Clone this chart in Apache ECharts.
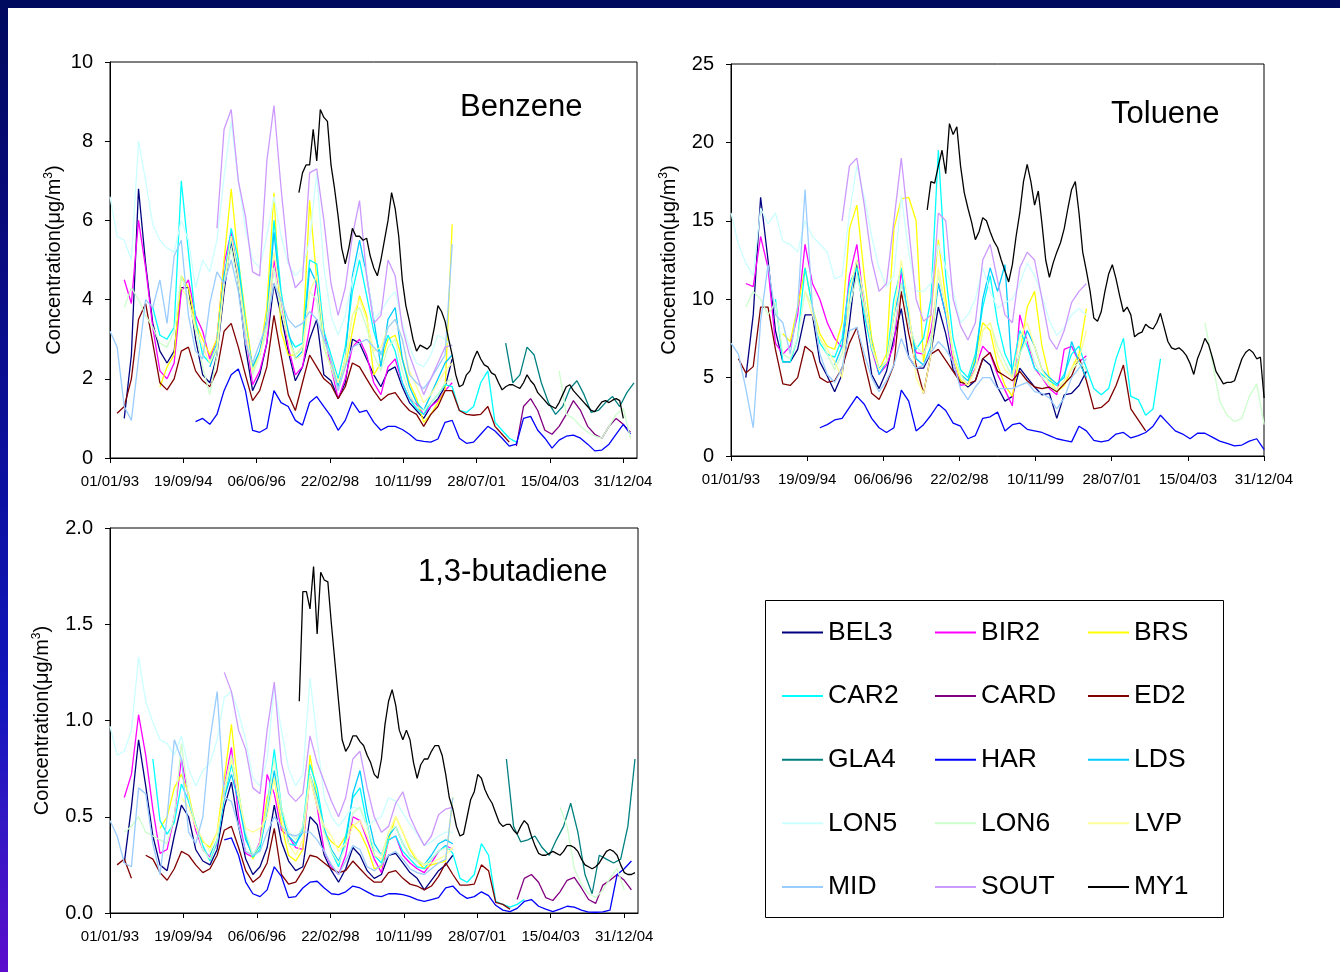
<!DOCTYPE html>
<html>
<head>
<meta charset="utf-8">
<title>Benzene / Toluene / 1,3-butadiene</title>
<script src="https://cdn.jsdelivr.net/npm/echarts@6/dist/echarts.min.js"></script>
<style>
  html, body { margin: 0; padding: 0; background: #fff; }
  #main { width: 1340px; height: 972px; }
</style>
</head>
<body>
<div id="main"></div>
<script>
// x axis is days since 01/01/93, ticks every 626 days
var MONTH = 30.4375;
var SPAN = 626;
var tickLabels = ['01/01/93', '19/09/94', '06/06/96', '22/02/98', '10/11/99', '28/07/01', '15/04/03', '31/12/04'];

var names = ['BEL3', 'BIR2', 'BRS', 'CAR2', 'CARD', 'ED2', 'GLA4', 'HAR', 'LDS', 'LON5', 'LON6', 'LVP', 'MID', 'SOUT', 'MY1'];
var colors = ['#000080', '#FF00FF', '#FFFF00', '#00FFFF', '#800080', '#800000', '#008080', '#0000FF', '#00CCFF', '#CCFFFF', '#CCFFCC', '#FFFF99', '#99CCFF', '#CC99FF', '#000000'];
// months between points (MY1 monthly, others every 2 months)
var steps = [2, 2, 2, 2, 2, 2, 2, 2, 2, 2, 2, 2, 2, 2, 1];

// first month (0 = Jan 93) of every series
var bzStart = [4, 4, 14, 12, 114, 2, 111, 24, 28, 0, 4, 20, 0, 30, 53];
var tlStart = [4, 4, 14, 12, 0, 2, 0, 24, 28, 0, 4, 20, 0, 30, 53];
var bdStart = [4, 4, 14, 12, 114, 2, 111, 32, 28, 0, 4, 20, 0, 32, 53];

// ---- Benzene (ug/m3)
var bzBEL3 = [1.0, 2.6, 6.8, 4.9, 3.4, 2.7, 2.4, 2.7, 4.3, 4.3, 3.0, 2.1, 1.9, 2.6, 4.2, 5.5, 4.4, 2.8, 1.7, 2.1, 2.9, 4.4, 3.6, 2.7, 1.95, 2.3, 3.0, 3.5, 2.1, 1.95, 1.5, 1.9, 3.0, 2.9, 2.5, 2.1, 1.8, 2.2, 2.3, 1.8, 1.4, 1.2, 1.0, 1.3, 1.5, 1.8, 2.5];
var bzBIR2 = [4.5, 3.9, 6.0, 4.8, 3.3, 2.2, 2.0, 2.4, 4.2, 4.5, 3.6, 3.2, 2.5, 3.0, 4.9, 5.7, 4.6, 3.2, 1.85, 2.2, 2.9, 5.0, 4.0, 2.8, 2.1, 2.3, 3.3, 4.5, 3.2, 2.3, 1.5, 2.0, 2.8, 3.0, 2.6, 1.9, 1.6, 2.3, 2.5, 1.9, 1.5, 1.35, 1.1, 1.3, 1.45, 1.7, 1.9];
var bzBRS = [1.8, 2.3, 2.6, 4.6, 4.3, 3.4, 3.0, 2.6, 3.0, 5.0, 6.8, 5.0, 3.6, 2.3, 2.6, 3.8, 6.7, 3.2, 2.6, 2.6, 2.8, 6.5, 4.5, 2.8, 2.3, 1.8, 2.3, 3.2, 4.1, 3.6, 2.1, 2.4, 3.0, 3.1, 2.5, 1.9, 1.5, 0.9, 1.1, 1.4, 1.7, 5.9];
var bzCAR2 = [3.8, 3.1, 3.0, 3.3, 7.0, 5.2, 3.5, 2.6, 2.4, 2.9, 4.5, 5.8, 5.0, 3.4, 2.2, 2.6, 3.4, 6.0, 4.2, 3.1, 2.8, 2.9, 5.0, 4.9, 3.2, 2.6, 2.0, 2.8, 4.2, 5.0, 4.1, 3.2, 2.6, 3.1, 2.7, 1.9, 1.5, 1.25, 1.1, 1.4, 1.6, 1.85, 1.8, 1.2, 1.15, 1.3, 1.9, 2.2, 0.9, 0.7, 0.5, 0.4];
var bzCARD = [0.3, 1.3, 1.5, 1.2, 0.7, 0.6, 0.8, 1.1, 1.45, 1.2, 0.8, 0.6, 0.5, 0.8, 1.0, 0.85, 0.65];
var bzED2 = [1.13, 1.3, 2.0, 3.5, 3.9, 2.9, 1.9, 1.72, 2.0, 2.7, 2.8, 2.2, 1.95, 1.8, 2.2, 3.2, 3.4, 2.8, 2.1, 1.45, 1.7, 2.3, 3.6, 2.6, 1.6, 1.2, 1.9, 2.6, 2.3, 2.0, 1.85, 1.5, 1.8, 2.4, 2.3, 2.0, 1.7, 1.45, 1.6, 1.65, 1.4, 1.2, 1.1, 0.8, 1.1, 1.3, 1.7, 1.7, 1.2, 1.1, 1.08, 1.1, 1.3, 0.8, 0.6, 0.4];
var bzGLA4 = [2.9, 1.9, 2.1, 2.8, 2.6, 1.9, 1.4, 1.1, 1.3, 1.75, 1.95, 1.6, 1.15, 1.2, 1.4, 1.55, 1.3, 1.65, 1.9];
var bzHAR = [0.92, 1.0, 0.85, 1.1, 1.7, 2.1, 2.25, 1.7, 0.7, 0.65, 0.75, 1.7, 1.4, 1.3, 0.95, 0.83, 1.4, 1.55, 1.3, 1.05, 0.7, 0.95, 1.42, 1.15, 1.2, 0.9, 0.7, 0.8, 0.8, 0.72, 0.6, 0.45, 0.42, 0.4, 0.48, 0.9, 0.95, 0.5, 0.37, 0.4, 0.6, 0.8, 0.68, 0.5, 0.3, 0.35, 1.0, 1.05, 0.7, 0.5, 0.25, 0.45, 0.55, 0.58, 0.5, 0.35, 0.18, 0.2, 0.35, 0.6, 0.85, 0.6];
var bzLDS = [2.3, 2.8, 4.6, 5.5, 4.8, 3.3, 2.3, 2.7, 3.5, 5.7, 4.0, 3.2, 2.5, 2.7, 4.8, 4.4, 3.0, 2.5, 1.8, 2.5, 4.6, 5.5, 4.6, 3.5, 2.3, 3.5, 3.8, 2.5, 1.8, 1.4, 1.2, 1.6, 2.0, 2.4, 2.6];
var bzLON5 = [6.6, 5.6, 5.5, 5.0, 8.0, 7.0, 5.9, 5.5, 5.3, 5.2, 6.0, 5.5, 4.3, 5.0, 4.7, 5.5, 7.1, 8.5, 7.0, 5.8, 5.0, 4.8, 5.6, 6.6, 5.6, 4.9, 4.6, 4.8, 5.5, 7.2, 4.8, 3.6, 3.1, 3.6, 4.5, 5.2, 4.6, 3.5, 3.7, 4.0, 4.2, 3.4, 2.8, 2.4, 2.3, 2.6, 3.1, 3.0, 2.8];
var bzLON6 = [3.8, 4.3, 4.0, 3.6, 3.3, 2.9, 2.8, 3.2, 4.6, 4.0, 3.2, 2.3, 1.6, 2.6, 4.4, 5.3, 4.4, 3.2, 2.1, 2.6, 3.2, 4.8, 3.7, 3.0, 2.6, 2.8, 4.2, 4.0, 2.8, 2.3, 1.7, 2.4, 3.6, 3.8, 3.3, 2.6, 2.2, 2.8, 3.0, 2.2, 1.6, 1.3, 1.2, 1.4, 1.6, 1.9, 2.0,
  null, null, null, null, null, null, null, null, null, null, null, null, null, null,
  2.2, 1.1, 1.0, 0.8, 0.65, 0.55, 0.5, 0.8, 1.1, 1.25, 0.5];
var bzLVP = [4.3, 4.0, 3.3, 2.8, 2.4, 2.8, 4.4, 5.6, 4.6, 3.3, 2.2, 2.6, 3.4, 5.2, 4.0, 3.0, 2.5, 2.6, 4.2, 4.6, 3.0, 2.5, 1.9, 2.5, 3.6, 4.0, 3.5, 2.7, 2.8, 3.3, 3.5, 3.0, 2.2, 1.8, 1.4, 1.6, 1.9, 2.2, 2.4];
var bzMID = [3.2, 2.8, 1.3, 0.95, 2.5, 4.0, 3.8, 4.5, 3.4, 5.1, 5.5, 3.6, 2.7, 2.5, 3.9, 4.7, 4.4, 5.0, 4.2, 2.9, 2.4, 2.9, 3.4, 4.4, 4.0, 3.5, 3.3, 3.4, 3.7, 3.5, 3.0, 2.5, 1.7, 2.3, 2.8, 2.9, 3.0, 2.8, 2.6, 3.3, 3.5, 3.0, 2.1, 1.9, 1.75, 2.0, 2.3, 2.6, 5.4];
var bzSOUT = [5.8, 8.3, 8.8, 7.0, 6.1, 4.7, 4.6, 7.5, 8.9, 6.8, 5.0, 4.3, 4.5, 7.2, 7.3, 6.0, 4.4, 3.6, 4.3, 5.6, 6.5, 4.6, 3.4, 3.6, 5.0, 4.6, 3.3, 2.6, 2.1, 1.6, 2.0, 2.4, 2.8, 2.85];
var bzMY1 = [6.7, 7.2, 7.4, 7.4, 8.3, 7.5, 8.8, 8.6, 8.5, 7.4, 6.8, 6.1, 5.3, 4.9, 5.3, 5.8, 5.6, 5.6, 5.5, 5.55,
  5.1, 4.8, 4.6, 5.0, 5.5, 6.0, 6.7, 6.3, 5.6, 4.5, 3.85, 3.45, 3.0, 2.7, 2.85, 2.8, 2.75, 2.85, 3.3, 3.85,
  3.7, 3.45, 3.0, 2.6, 2.1, 1.8, 1.85, 2.1, 2.2, 2.5, 2.7, 2.5, 2.35, 2.3, 2.15, 2.1, 1.9, 1.72, 1.8, 1.85,
  1.85, 1.8, 1.76, 1.9, 2.1, 1.95, 1.85, 1.65, 1.55, 1.45, 1.34, 1.3, 1.25, 1.4, 1.6, 1.8, 1.85, 1.7, 1.6, 1.5,
  1.4, 1.3, 1.2, 1.17, 1.3, 1.42, 1.45, 1.4, 1.46, 1.5, 1.45, 1.0];

// ---- Toluene (ug/m3)
var tlBEL3 = [5.0, 9.0, 16.5, 12.5, 8.0, 6.0, 6.0, 6.8, 9.0, 9.0, 6.0, 5.1, 4.1, 5.2, 8.5, 12.5, 8.5, 5.2, 4.3, 5.4, 7.5, 9.4, 6.3, 5.6, 5.6, 6.6, 9.5, 7.8, 5.5, 4.8, 4.4, 4.8, 6.2, 5.8, 4.4, 3.5, 3.8, 5.6, 5.0, 4.4, 3.9, 4.0, 2.4, 3.9, 4.0, 4.5, 5.4];
var tlBIR2 = [11.0, 10.8, 14.0, 12.0, 7.2, 6.5, 7.0, 9.0, 13.5, 11.0, 10.0, 8.5, 7.5, 6.9, 11.5, 13.5, 9.5, 6.8, 5.2, 5.8, 7.1, 11.8, 8.5, 6.6, 6.5, 8.0, 11.0, 9.0, 6.0, 4.5, 4.6, 5.6, 7.0, 6.5, 5.2, 4.2, 3.2, 9.0, 7.3, 5.6, 5.0, 4.3, 3.9, 6.8, 7.0, 6.0, 6.4];
var tlBRS = [7.8, 7.3, 9.5, 12.0, 9.5, 7.8, 7.0, 6.8, 8.5, 14.5, 16.0, 11.5, 7.5, 5.5, 6.5, 14.5, 16.4, 16.5, 15.0, 6.0, 9.0, 13.8, 10.0, 6.4, 4.8, 4.5, 6.3, 8.5, 8.0, 5.8, 4.5, 3.8, 6.5, 9.5, 10.5, 7.0, 5.0, 4.1, 4.5, 5.6, 6.5, 9.4];
var tlCAR2 = [10.0, 6.0, 6.0, 7.5, 12.0, 9.5, 7.2, 6.5, 6.3, 7.5, 11.0, 12.0, 9.0, 6.8, 5.6, 6.0, 10.0, 12.0, 8.5, 6.8, 7.5, 10.0, 19.5, 11.5, 7.5, 5.5, 5.0, 6.5, 9.5, 11.5, 8.5, 6.5, 5.5, 8.0, 7.0, 5.6, 5.2, 4.8, 4.5, 5.2, 6.5, 7.0, 5.6, 4.3, 3.9, 4.3, 6.2, 7.5, 3.8, 3.6, 2.6, 3.0, 6.2];
var tlCARD = [];
var tlED2 = [6.2, 5.3, 5.7, 9.5, 9.5, 6.8, 4.6, 4.5, 5.0, 7.0, 6.6, 5.0, 4.7, 4.8, 5.6, 7.2, 8.2, 6.0, 4.0, 3.6, 4.6, 5.8, 10.5, 7.8, 5.8, 4.0, 6.5, 6.8, 6.1, 5.4, 4.7, 4.6, 4.8, 6.2, 6.6, 5.4, 5.1, 4.8, 5.4, 4.8, 4.4, 4.3, 4.4, 4.1, 4.6, 5.1, 6.3, 4.8, 3.0, 3.1, 3.5, 4.5, 5.8, 3.0, 2.3, 1.6];
var tlGLA4 = [];
var tlHAR = [1.8, 2.0, 2.3, 2.4, 3.1, 3.8, 3.3, 2.4, 1.8, 1.5, 1.8, 4.2, 3.5, 1.6, 2.0, 2.6, 3.3, 2.9, 2.1, 1.9, 1.1, 1.3, 2.4, 2.5, 2.8, 1.6, 2.0, 2.1, 1.7, 1.6, 1.5, 1.3, 1.1, 1.0, 0.9, 1.9, 1.6, 1.0, 0.9, 1.0, 1.4, 1.5, 1.15, 1.3, 1.5, 1.9, 2.6, 2.1, 1.6, 1.4, 1.1, 1.45, 1.45, 1.2, 0.95, 0.8, 0.65, 0.7, 0.95, 1.1, 0.4];
var tlLDS = [5.8, 7.0, 10.0, 12.5, 10.0, 7.2, 5.2, 6.0, 9.0, 11.0, 9.0, 6.2, 5.8, 7.0, 11.0, 9.0, 6.5, 5.2, 4.8, 6.0, 10.0, 12.0, 10.5, 12.2, 5.0, 6.5, 8.0, 7.0, 5.5, 5.0, 4.6, 5.0, 7.3, 6.0, 5.0];
var tlLON5 = [15.5, 13.5, 12.3, 11.5, 15.8, 14.8, 15.5, 13.7, 13.5, 13.0, 15.0, 14.0, 13.5, 13.0, 11.3, 11.5, 15.5, 18.5, 16.5, 14.0, 12.0, 10.8, 11.5, 16.6, 13.0, 10.5, 10.5, 11.0, 13.5, 12.0, 10.5, 8.5, 9.0, 10.0, 12.0, 10.5, 9.4, 9.8, 10.0, 11.0, 12.3, 11.5, 10.2, 8.6, 7.7, 8.2, 9.0, 9.4, 9.0];
var tlLON6 = [9.5, 10.5, 10.0, 9.0, 9.8, 6.5, 6.2, 7.5, 10.5, 9.5, 7.5, 6.5, 5.5, 6.5, 9.5, 11.5, 9.5, 7.0, 5.5, 6.0, 8.0, 11.0, 8.5, 7.0, 6.5, 7.5, 11.5, 9.5, 6.5, 5.2, 4.5, 5.5, 8.0, 8.5, 7.0, 6.0, 5.0, 6.5, 7.5, 6.0, 5.0, 4.5, 4.2, 4.8, 5.5, 6.0, 5.5,
  null, null, null, null, null, null, null, null, null, null, null, null, null, null, null,
  8.5, 6.0, 3.5, 2.6, 2.2, 2.4, 3.8, 4.6, 2.0];
var tlLVP = [10.5, 9.0, 7.5, 6.8, 6.0, 5.0, 10.5, 12.5, 10.0, 7.0, 5.5, 6.0, 9.0, 12.5, 9.5, 5.0, 4.0, 6.5, 12.0, 9.5, 6.5, 5.0, 4.5, 5.5, 8.0, 8.5, 6.5, 5.5, 5.0, 7.5, 8.5, 7.0, 5.5, 4.6, 4.3, 4.8, 5.6, 6.2, 8.0];
var tlMID = [7.2, 6.5, 4.3, 1.8, 8.6, 12.2, 9.0, 8.5, 6.5, 9.5, 17.0, 9.5, 6.5, 5.2, 4.7, 5.6, 8.0, 8.2, 6.5, 5.0, 4.1, 4.8, 5.8, 7.5, 6.3, 5.6, 5.8, 6.6, 7.3, 6.8, 6.0, 4.3, 3.6, 4.4, 5.0, 5.0, 4.3, 4.3, 4.3, 4.5, 4.7, 4.1, 4.0, 3.7, 3.0, 3.7, 5.0, 5.6, 6.2];
var tlSOUT = [15.0, 18.5, 19.0, 16.0, 12.5, 10.5, 11.0, 15.0, 19.0, 14.5, 10.0, 8.6, 9.0, 15.5, 15.0, 10.0, 8.3, 7.4, 8.5, 12.5, 13.5, 11.2, 9.0, 8.5, 12.0, 13.0, 12.5, 10.0, 7.5, 6.8, 8.0, 9.8, 10.5, 11.0];
var tlMY1 = [15.7, 17.5, 17.4, 18.5, 19.5, 18.0, 21.2, 20.5, 21.0, 18.5, 16.8, 15.8, 14.9, 13.8, 14.3, 15.2, 15.0, 14.3, 13.7, 13.3,
  12.5, 11.8, 11.1, 12.2, 14.0, 15.5, 17.5, 18.6, 17.5, 16.0, 16.9, 14.8, 12.5, 11.4, 12.3, 13.0, 13.6, 14.5, 15.8, 17.0,
  17.5, 15.5, 13.0, 11.8, 10.5, 8.8, 8.6, 9.2, 10.5, 11.6, 12.2, 11.3, 10.2, 9.2, 9.5, 9.0, 7.6, 7.8, 7.9, 8.4,
  8.2, 8.1, 8.5, 9.1, 8.2, 7.3, 6.9, 6.8, 6.9, 6.7, 6.4, 5.9, 5.2, 6.2, 6.8, 7.5, 7.1, 6.3, 5.4, 5.0,
  4.6, 4.7, 4.7, 4.8, 5.5, 6.2, 6.6, 6.8, 6.6, 6.2, 6.3, 3.7];

// ---- 1,3-butadiene (ug/m3)
var bdBEL3 = [0.26, 0.55, 0.9, 0.66, 0.4, 0.25, 0.22, 0.4, 0.56, 0.5, 0.33, 0.27, 0.25, 0.33, 0.55, 0.68, 0.45, 0.28, 0.2, 0.24, 0.34, 0.56, 0.37, 0.27, 0.22, 0.24, 0.5, 0.46, 0.3, 0.22, 0.16, 0.23, 0.34, 0.3, 0.22, 0.18, 0.2, 0.3, 0.31, 0.26, 0.21, 0.18, 0.12, 0.17, 0.22, 0.25, 0.3];
var bdBIR2 = [0.6, 0.72, 1.03, 0.82, 0.54, 0.31, 0.33, 0.5, 0.8, 0.6, 0.43, 0.33, 0.29, 0.36, 0.66, 0.86, 0.5, 0.31, 0.29, 0.37, 0.72, 0.62, 0.43, 0.4, 0.34, 0.33, 0.72, 0.55, 0.32, 0.24, 0.2, 0.3, 0.5, 0.48, 0.38, 0.28, 0.21, 0.38, 0.4, 0.3, 0.26, 0.23, 0.21, 0.26, 0.32, 0.35, 0.33];
var bdBRS = [0.44, 0.5, 0.65, 0.72, 0.62, 0.45, 0.37, 0.34, 0.42, 0.7, 0.98, 0.63, 0.4, 0.28, 0.36, 0.6, 0.7, 0.46, 0.3, 0.27, 0.33, 0.82, 0.6, 0.42, 0.37, 0.34, 0.4, 0.46, 0.42, 0.34, 0.23, 0.24, 0.38, 0.5, 0.42, 0.33, 0.27, 0.23, 0.25, 0.26, 0.27, 0.6];
var bdCAR2 = [0.8, 0.48, 0.41, 0.47, 0.67, 0.58, 0.46, 0.35, 0.27, 0.37, 0.6, 0.77, 0.62, 0.4, 0.29, 0.33, 0.55, 0.85, 0.55, 0.36, 0.35, 0.45, 0.77, 0.65, 0.44, 0.32, 0.24, 0.4, 0.6, 0.65, 0.46, 0.3, 0.26, 0.38, 0.4, 0.32, 0.28, 0.24, 0.23, 0.28, 0.32, 0.35, 0.31, 0.18, 0.16, 0.2, 0.36, 0.3, 0.06, 0.045, 0.03, 0.045, 0.07];
var bdCARD = [0.07, 0.18, 0.2, 0.16, 0.08, 0.065, 0.11, 0.17, 0.185, 0.13, 0.07, 0.05, 0.145, 0.17, 0.2, 0.17, 0.12];
var bdED2 = [0.25, 0.28, 0.18, null, 0.3, 0.28, 0.21, 0.17, 0.23, 0.32, 0.3, 0.25, 0.21, 0.23, 0.3, 0.43, 0.45, 0.34, 0.22, 0.16, 0.19, 0.26, 0.44, 0.2, 0.15, 0.16, 0.22, 0.3, 0.29, 0.26, 0.23, 0.21, 0.22, 0.27, 0.23, 0.19, 0.16, 0.16, 0.21, 0.22, 0.18, 0.15, 0.14, 0.12, 0.14, 0.19, 0.26, 0.2, 0.145, 0.145, 0.15, 0.25, 0.22, 0.055, 0.045, 0.02];
var bdGLA4 = [0.8, 0.45, 0.37, 0.38, 0.4, 0.34, 0.3, 0.38, 0.45, 0.57, 0.42, 0.2, 0.1, 0.3, 0.28, 0.26, 0.28, 0.45, 0.8];
var bdHAR = [0.38, 0.39, 0.3, 0.16, 0.1, 0.085, 0.12, 0.24, 0.19, 0.08, 0.085, 0.13, 0.16, 0.165, 0.13, 0.1, 0.095, 0.11, 0.14, 0.13, 0.11, 0.09, 0.085, 0.1, 0.1, 0.095, 0.085, 0.07, 0.06, 0.07, 0.08, 0.13, 0.14, 0.1, 0.076, 0.085, 0.11, 0.09, 0.04, 0.015, 0.007, 0.024, 0.06, 0.07, 0.035, 0.02, 0.007, 0.02, 0.035, 0.03, 0.015, 0.005, 0.004, 0.006, 0.015, 0.2, 0.23, 0.27];
var bdLDS = [0.3, 0.38, 0.6, 0.72, 0.58, 0.38, 0.3, 0.35, 0.52, 0.74, 0.5, 0.4, 0.36, 0.42, 0.72, 0.6, 0.43, 0.33, 0.27, 0.36, 0.62, 0.74, 0.52, 0.36, 0.3, 0.4, 0.45, 0.36, 0.3, 0.27, 0.25, 0.3, 0.36, 0.38, 0.36];
var bdLON5 = [0.97, 0.82, 0.84, 0.95, 1.33, 1.1, 0.99, 0.9, 0.88, 0.82, 0.92, 0.75, 0.66, 0.74, 0.78, 0.9, 1.12, 1.15, 1.04, 0.9, 0.7, 0.66, 0.8, 1.18, 0.95, 0.75, 0.66, 0.72, 1.22, 0.9, 0.6, 0.5, 0.45, 0.5, 0.55, 0.54, 0.45, 0.48, 0.5, 0.6, 0.58, 0.52, 0.46, 0.41, 0.35, 0.37, 0.4, 0.42, 0.42];
var bdLON6 = [0.42, 0.45, 0.5, 0.42, 0.4, 0.38, 0.36, 0.5, 0.88, 0.6, 0.45, 0.33, 0.28, 0.38, 0.65, 0.82, 0.62, 0.42, 0.3, 0.36, 0.55, 0.8, 0.55, 0.42, 0.38, 0.45, 0.72, 0.58, 0.42, 0.32, 0.26, 0.35, 0.52, 0.55, 0.45, 0.33, 0.3, 0.42, 0.45, 0.36, 0.3, 0.27, 0.25, 0.28, 0.32, 0.34, 0.33,
  null, null, null, null, null, null, null, null, null, null, null, null, null, null,
  0.55, 0.45, 0.23, 0.15, 0.1, 0.08, 0.12, 0.18, 0.23, 0.12];
var bdLVP = [0.6, 0.55, 0.45, 0.38, 0.32, 0.42, 0.62, 0.8, 0.6, 0.44, 0.42, 0.44, 0.5, 0.7, 0.5, 0.36, 0.3, 0.38, 0.7, 0.55, 0.45, 0.4, 0.32, 0.36, 0.45, 0.48, 0.4, 0.3, 0.28, 0.42, 0.5, 0.42, 0.34, 0.28, 0.25, 0.26, 0.28, 0.3, 0.34];
var bdMID = [0.48, 0.4, 0.26, 0.24, 0.65, 0.62, 0.36, 0.2, 0.5, 0.9, 0.8, 0.42, 0.36, 0.5, 0.9, 1.15, 0.6, 0.58, 0.45, 0.32, 0.3, 0.32, 0.42, 0.5, 0.45, 0.41, 0.4, 0.42, 0.42, 0.38, 0.32, 0.25, 0.2, 0.27, 0.35, 0.33, 0.24, 0.22, 0.25, 0.3, 0.32, 0.28, 0.23, 0.21, 0.2, 0.23, 0.26, 0.28, 0.6];
var bdSOUT = [1.25, 1.15, 0.95, 0.85, 0.65, 0.62, 0.95, 1.2, 0.78, 0.62, 0.58, 0.62, 0.92, 0.78, 0.68, 0.58, 0.5, 0.6, 0.8, 0.84, 0.65, 0.5, 0.42, 0.45, 0.57, 0.63, 0.5, 0.42, 0.35, 0.4, 0.51, 0.54, 0.55];
var bdMY1 = [1.1, 1.67, 1.67, 1.58, 1.8, 1.45, 1.77, 1.73, 1.72, 1.5, 1.3, 1.1, 0.9, 0.84, 0.87, 0.92, 0.92, 0.89, 0.87, 0.82,
  0.78, 0.72, 0.7, 0.8, 0.98, 1.1, 1.16, 1.08, 0.95, 0.9, 0.95, 0.9, 0.78, 0.7, 0.77, 0.8, 0.8, 0.84, 0.87, 0.87,
  0.82, 0.72, 0.6, 0.54, 0.45, 0.4, 0.41, 0.5, 0.59, 0.63, 0.72, 0.7, 0.64, 0.6, 0.57, 0.52, 0.47, 0.45, 0.46, 0.46,
  0.43, 0.41, 0.45, 0.48, 0.46, 0.4, 0.35, 0.31, 0.3, 0.3, 0.31, 0.32, 0.31, 0.3, 0.32, 0.35, 0.35, 0.34, 0.32, 0.28,
  0.25, 0.24, 0.23, 0.24, 0.26, 0.29, 0.32, 0.33, 0.32, 0.3, 0.25, 0.21, 0.2, 0.2, 0.21];

var bzVals = [bzBEL3, bzBIR2, bzBRS, bzCAR2, bzCARD, bzED2, bzGLA4, bzHAR, bzLDS, bzLON5, bzLON6, bzLVP, bzMID, bzSOUT, bzMY1];
var tlVals = [tlBEL3, tlBIR2, tlBRS, tlCAR2, tlCARD, tlED2, tlGLA4, tlHAR, tlLDS, tlLON5, tlLON6, tlLVP, tlMID, tlSOUT, tlMY1];
var bdVals = [bdBEL3, bdBIR2, bdBRS, bdCAR2, bdCARD, bdED2, bdGLA4, bdHAR, bdLDS, bdLON5, bdLON6, bdLVP, bdMID, bdSOUT, bdMY1];

// legend columns as in the picture
var legendCols = [
    ['BEL3', 'CAR2', 'GLA4', 'LON5', 'MID'],
    ['BIR2', 'CARD', 'HAR', 'LON6', 'SOUT'],
    ['BRS', 'ED2', 'LDS', 'LVP', 'MY1']
];

var FONT = '"Liberation Sans", Arial, Helvetica, sans-serif';
var tickDays = tickLabels.map(function (t, i) { return i * SPAN; });

var myChart = echarts.init(document.getElementById('main'), null, { renderer: 'canvas' });

function makeSeries(vals, starts, g) {
    return names.map(function (n, i) {
        var data = vals[i].map(function (v, k) {
            return [(starts[i] + k * steps[i]) * MONTH, v];
        });
        return {
            name: n,
            type: 'line',
            xAxisIndex: g,
            yAxisIndex: g,
            data: data,
            symbol: 'none',
            connectNulls: false,
            animation: false,
            lineStyle: { color: colors[i], width: 1.3 },
            itemStyle: { color: colors[i] },
            emphasis: { disabled: true }
        };
    });
}

function xAxisOf(g, max) {
    return {
        type: 'value',
        gridIndex: g,
        min: 0,
        max: max,
        interval: SPAN,
        axisLine: { show: true, lineStyle: { color: '#000', width: 1 } },
        axisTick: { show: true, customValues: tickDays, length: 5, lineStyle: { color: '#000' } },
        axisLabel: {
            customValues: tickDays,
            margin: 16,
            fontSize: 15,
            fontFamily: FONT,
            color: '#000',
            formatter: function (v) { return tickLabels[Math.round(v / SPAN)]; }
        },
        splitLine: { show: false }
    };
}

function yAxisOf(g, max, step, gap, dec) {
    return {
        type: 'value',
        gridIndex: g,
        min: 0,
        max: max,
        interval: step,
        name: 'Concentration(μg/m{s|3})',
        nameLocation: 'middle',
        nameGap: gap,
        nameTextStyle: {
            fontSize: 20,
            fontFamily: FONT,
            color: '#000',
            lineHeight: 22,
            rich: { s: { fontSize: 12, fontFamily: FONT, color: '#000', verticalAlign: 'top', lineHeight: 12 } }
        },
        axisLine: { show: true, lineStyle: { color: '#000', width: 1 } },
        axisTick: { show: true, length: 5, lineStyle: { color: '#000' } },
        axisLabel: {
            margin: 17,
            fontSize: 20,
            fontFamily: FONT,
            color: '#000',
            formatter: function (v) { return dec ? v.toFixed(1) : String(v); }
        },
        splitLine: { show: false }
    };
}

var titleStyle = { fontSize: 31, fontWeight: 'normal', fontFamily: FONT, color: '#000' };

var option = {
    backgroundColor: '#fff',
    animation: false,
    title: [
        { text: 'Benzene', left: 460, top: 92, padding: 0, textStyle: titleStyle },
        { text: 'Toluene', left: 1111, top: 99, padding: 0, textStyle: titleStyle },
        { text: '1,3-butadiene', left: 418, top: 557, padding: 0, textStyle: titleStyle }
    ],
    grid: [
        { left: 110, top: 62, width: 527, height: 396, show: true, borderColor: '#000', borderWidth: 1, backgroundColor: 'transparent' },
        { left: 731, top: 64, width: 533, height: 392, show: true, borderColor: '#000', borderWidth: 1, backgroundColor: 'transparent' },
        { left: 110, top: 528, width: 528, height: 385, show: true, borderColor: '#000', borderWidth: 1, backgroundColor: 'transparent' }
    ],
    xAxis: [xAxisOf(0, 4500), xAxisOf(1, 4382), xAxisOf(2, 4500)],
    yAxis: [yAxisOf(0, 10, 2, 45, false), yAxisOf(1, 25, 5, 51, false), yAxisOf(2, 2, 0.5, 57, true)],
    legend: legendCols.map(function (col, c) {
        return {
            orient: 'vertical',
            left: [782, 935, 1088][c],
            top: 619,
            padding: 0,
            itemGap: 36.6,
            itemWidth: 41,
            itemHeight: 2,
            icon: 'rect',
            selectedMode: false,
            data: col,
            textStyle: { fontSize: 26.5, fontFamily: FONT, color: '#000', lineHeight: 26 }
        };
    }),
    graphic: [
        // slide frame: dark top band and left gradient band
        { type: 'rect', left: 0, top: 0, z: 0, shape: { width: 1340, height: 8 }, style: { fill: '#000A5E' } },
        {
            type: 'rect', left: 0, top: 0, z: 0, shape: { width: 8, height: 972 },
            style: {
                fill: new echarts.graphic.LinearGradient(0, 0, 0, 1, [
                    { offset: 0, color: '#000A5E' },
                    { offset: 0.2, color: '#080A78' },
                    { offset: 0.5, color: '#0C10A0' },
                    { offset: 0.72, color: '#1216BC' },
                    { offset: 0.85, color: '#3418C4' },
                    { offset: 1, color: '#5C0CCC' }
                ])
            }
        },
        // legend box
        { type: 'rect', z: 0, shape: { x: 765.5, y: 600.5, width: 458, height: 317 }, style: { fill: '#fff', stroke: '#000', lineWidth: 1 } }
    ],
    series: [].concat(makeSeries(bzVals, bzStart, 0), makeSeries(tlVals, tlStart, 1), makeSeries(bdVals, bdStart, 2))
};

myChart.setOption(option);
</script>
</body>
</html>
